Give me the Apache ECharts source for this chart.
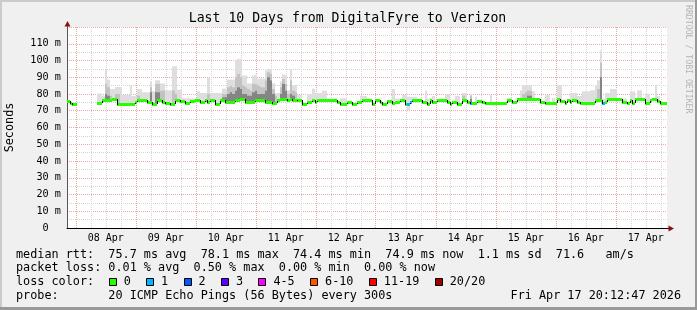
<!DOCTYPE html>
<html><head><meta charset="utf-8">
<script src="https://cdn.jsdelivr.net/npm/echarts@6/dist/echarts.min.js"></script>
<style>html,body{margin:0;padding:0;background:#f0f0f0}#c{width:697px;height:310px}</style>
</head><body><div id="c"></div>
<script>
// ---------- data (hour 0 = Apr 7 20:30, one sample per hour) ----------
const titleText = 'Last 10 Days from DigitalFyre to Verizon';
const dayLabels = ['08 Apr','09 Apr','10 Apr','11 Apr','12 Apr','13 Apr','14 Apr','15 Apr','16 Apr','17 Apr'];
const medianRtt = [
 75.7,74.7,74.3,74.3,null,null,null,null,null,null,
 null,null,74.7,74.7,76.3,76.3,76.3,76.3,77,77,
 74.3,74.3,74.3,74.3,74.3,74.3,74.3,75,76.3,76.3,
 76.3,76.3,75.3,75.3,74.3,74.3,76.3,76.3,75.3,74.7,
 74.7,74.3,74.3,76.7,76.7,75.9,75.9,74.7,74.7,75.9,
 75.9,76.7,76.7,75.1,75.1,76.3,75.1,76.3,76.3,74.3,
 74.3,76.3,76.3,75.1,75.1,75.1,75.1,76.7,76.7,77,
 77,75.1,75.1,75.1,75.1,76.7,76.7,76.7,76.7,75.3,
 75.3,75.3,74.7,74.7,76.3,77,77,77,76.7,77.3,
 76.7,76.7,76.3,76.3,74.3,74.3,75.3,75.3,76.3,75.3,
 76.3,76.3,76.3,76.3,76.3,76.3,76.3,76.3,75.3,74.3,
 74.3,74.3,75.1,75.1,74.3,74.3,75.3,75.3,76.3,76.3,
 76.3,76.3,74.3,76.3,76.3,75.3,74.3,74.3,75.7,75.7,
 74.7,75.5,75.5,76.3,76.3,74.3,74.3,75.5,76.3,76.3,
 76.3,76.3,75.1,75.1,74.3,76.3,75.1,75.1,76.3,76.3,
 76.3,76.3,75.1,74.3,75.5,75.5,74.3,74.3,76.3,76.3,
 75.1,74.7,74.7,74.7,75.9,75.9,75.1,74.7,74.7,74.7,
 74.7,74.7,74.7,74.7,74.7,74.7,76.3,76.3,75.5,75.5,
 77,77,77,77,77,77,77,77,77,75.3,
 75.3,74.7,74.7,74.7,74.7,74.7,77,75.9,75.9,74.7,
 76.3,75.1,76.3,76.3,75.3,74.7,74.7,74.7,74.7,74.7,
 74.7,76.3,76.3,76.3,74.7,75.5,77,77,77,77,
 77,77,75.3,75.3,74.7,76.3,74.7,77,77,77,
 77,74.7,74.7,76.3,77,77,75.9,74.7,74.7,74.7
];
const smokeHi = [
 null,null,null,null,null,null,null,null,null,null,
 null,null,80.3,80.3,79,94.5,88.6,83,83,84.2,
 84.2,84.2,79.5,79.5,79.5,85.2,78.8,78.8,83,83,
 81,81,81,87.5,81.6,88.2,88.2,86.3,86.3,82.2,
 82.2,82.2,96.5,96.5,82.6,82.6,77.5,77.5,77.5,77.5,
 77.5,77.5,81.6,80.6,80.6,80.6,89.8,80.6,80.6,80.6,
 80.6,80.6,83.2,83.2,88.6,88.6,88.6,100.5,101,101,
 91,91,86.3,86.3,91,91.7,89.2,89.2,89.2,94,
 95,95,86.3,80.6,80.6,87.5,91.7,91,82.2,95,
 85.2,85.2,79.5,79.5,null,null,80,80,83.2,80.6,
 80.6,80.6,82,82,null,null,null,77.5,null,77.5,
 77.5,77.5,null,null,null,null,null,78.8,78.8,78.8,
 77.3,77.3,null,null,null,null,null,null,null,null,
 83,77.3,77.3,null,79.5,79.5,78.4,78.4,78.4,78.4,
 null,null,null,82,77.3,77.3,78.8,null,null,null,
 null,80,80,null,null,78.8,78.8,null,80.6,80.6,
 null,80.2,null,78.4,null,null,null,null,null,79.5,
 null,null,null,null,null,null,77.7,77.7,null,null,
 null,82.2,85.2,85.2,85.2,85.2,81.6,null,null,null,
 null,79.3,79.3,null,77.5,null,85.2,85.2,null,null,
 null,80.6,80.6,80.6,78.8,78.8,81.6,81.6,81.6,82.2,
 82.2,85.2,88.2,106,77.3,80.6,80.6,83,83,83,
 null,null,77.3,77.3,null,81.6,81.6,null,82.2,82.2,
 null,80.2,80.2,null,null,85.2,78.8,null,null,null
];
const smokeMid = [[15,86],[16,84],[17,79],[19,80],[20,80],[28,79],[33,84],[35,86],[36,86],[37,82],[38,82],
 [42,82],[43,80],[56,80],[62,80],[63,80],[64,84],[65,85],[66,84],[67,90],[68,92],[69,90],[70,85],[71,84],
 [72,83],[73,82],[74,86],[75,86],[76,85],[77,84],[78,84],[79,88],[80,93],[81,92],[82,83],[83,79],[85,84],
 [86,89],[87,86],[88,80],[89,88],[90,82],[91,81],[158,79],[161,79],[182,80],[183,81],[184,82],[185,82],
 [212,83],[213,98.6]];
const smokeDark = [[15,80],[16,79],[33,81],[35,81],[36,81],[62,78],[63,78],[64,80],[65,81],[66,80],[67,82],
 [68,84],[69,83],[70,80],[71,80],[72,79],[73,79],[74,81],[75,82],[76,80],[77,80],[78,80],[79,82],[80,90],
 [81,88],[82,80],[85,80],[86,86],[87,82],[89,80],[90,79],[161,77],[184,79],[185,79],[213,90]];
const lowDips = [[136,70.5]];
const loss1Hours = [136,137,161,214];
const legendRtt = 'median rtt:  75.7 ms avg  78.1 ms max  74.4 ms min  74.9 ms now  1.1 ms sd  71.6   am/s';
const legendLoss = 'packet loss: 0.01 % avg  0.50 % max  0.00 % min  0.00 % now';
const lossTitle = 'loss color:';
const lossLabels = ['0','1','2','3','4-5','6-10','11-19','20/20'];
const lossColors = ['#26ff00','#00b8ff','#0059ff','#5e00ff','#ff00ff','#ff5500','#ff0000','#a00000'];
const probeText = 'probe:       20 ICMP Echo Pings (56 Bytes) every 300s';
const dateText = 'Fri Apr 17 20:12:47 2026';
const sideText = 'RRDTOOL / TOBI OETIKER';

// ---------- chart ----------
const FONT = '"DejaVu Sans Mono", monospace';
const HOURS = 240;
const midnights = dayLabels.map((d, k) => 3.5 + 24 * k);
const noons = dayLabels.map((d, k) => 15.5 + 24 * k);
const sixHours = [];
for (let h = 3.5, k = 0; h < HOURS; h += 6, k++) if (k % 4 !== 0) sixHours.push(h);

const lightData = [], midData = [], darkData = [];
smokeHi.forEach((v, i) => { if (v != null && medianRtt[i] != null) lightData.push([i, medianRtt[i], v]); });
lowDips.forEach(([i, v]) => lightData.push([i, v, medianRtt[i]]));
smokeMid.forEach(([i, v]) => midData.push([i, medianRtt[i], v]));
smokeDark.forEach(([i, v]) => darkData.push([i, medianRtt[i], v]));
const medData = [];
medianRtt.forEach((m, i) => {
  if (m == null) return;
  const prev = i > 0 && medianRtt[i - 1] != null ? medianRtt[i - 1] : -1;
  medData.push([i, m, prev, loss1Hours.includes(i) ? 1 : 0]);
});

function band(color) {
  return function (params, api) {
    const a = api.coord([api.value(0), api.value(2)]);
    const b = api.coord([api.value(0) + 1, api.value(1)]);
    const l = Math.round(a[0]), r = Math.round(b[0]);
    return { type: 'rect', shape: { x: l, y: a[1], width: r - l, height: b[1] - a[1] }, style: { fill: color } };
  };
}
function medianItem(params, api) {
  const i = api.value(0), m = api.value(1), prev = api.value(2), loss = api.value(3);
  const a = api.coord([i, m]), b = api.coord([i + 1, m]);
  const l = Math.round(a[0]), r = Math.round(b[0]), y = Math.round(a[1]);
  const ch = [{ type: 'rect', shape: { x: l, y: y - 1, width: r - l, height: 3 }, style: { fill: lossColors[loss] } }];
  if (prev > 0 && prev !== m) {
    const p = api.coord([i, prev]);
    ch.push({ type: 'line', shape: { x1: l + 0.5, y1: Math.round(p[1]), x2: l + 0.5, y2: y + 1 }, style: { stroke: '#000', lineWidth: 1 } });
  }
  return { type: 'group', children: ch };
}
function custom(data, render, z) {
  return { type: 'custom', data, renderItem: render, clip: true, z, silent: true, animation: false,
    encode: { x: 0, y: [1, 2] }, xAxisIndex: 0, yAxisIndex: 0 };
}

const graphic = [
  { type: 'rect', shape: { x: 0, y: 0, width: 697, height: 2 }, style: { fill: '#cbcbcb' } },
  { type: 'rect', shape: { x: 0, y: 0, width: 2, height: 310 }, style: { fill: '#cbcbcb' } },
  { type: 'rect', shape: { x: 695, y: 0, width: 2, height: 310 }, style: { fill: '#999' } },
  { type: 'rect', shape: { x: 0, y: 307, width: 697, height: 3 }, style: { fill: '#999' } },
  { type: 'text', x: 347.5, y: 19, style: { text: titleText, font: '13.2px ' + FONT, fill: '#000', align: 'center', verticalAlign: 'middle' } },
  { type: 'text', x: 688, y: 5, rotation: -Math.PI / 2, style: { text: sideText, font: '8.2px ' + FONT, fill: '#b4b4b4', align: 'left', verticalAlign: 'middle' } },
  { type: 'line', shape: { x1: 67.5, y1: 27, x2: 67.5, y2: 23 }, style: { stroke: '#555', lineWidth: 1 } },
  { type: 'polygon', shape: { points: [[64.5, 26.5], [70.5, 26.5], [67.5, 21]] }, style: { fill: '#8b1010' } },
  { type: 'line', shape: { x1: 667, y1: 228.5, x2: 669, y2: 228.5 }, style: { stroke: '#000', lineWidth: 1 } },
  { type: 'polygon', shape: { points: [[668.5, 225.5], [668.5, 231.5], [674, 228.5]] }, style: { fill: '#8b1010' } },
  { type: 'text', x: 16, y: 254.7, style: { text: legendRtt, font: '11.8px ' + FONT, fill: '#000', verticalAlign: 'middle' } },
  { type: 'text', x: 16, y: 268.3, style: { text: legendLoss, font: '11.8px ' + FONT, fill: '#000', verticalAlign: 'middle' } },
  { type: 'text', x: 16, y: 282.3, style: { text: lossTitle, font: '11.8px ' + FONT, fill: '#000', verticalAlign: 'middle' } },
  { type: 'text', x: 16, y: 296, style: { text: probeText, font: '11.8px ' + FONT, fill: '#000', verticalAlign: 'middle' } },
  { type: 'text', x: 681, y: 296, style: { text: dateText, font: '11.8px ' + FONT, fill: '#000', align: 'right', verticalAlign: 'middle' } }
];
let lx = 108.7;
const CH = 7.12;
lossLabels.forEach((lab, k) => {
  graphic.push({ type: 'rect', shape: { x: Math.round(lx) + 0.5, y: 278.5, width: 7, height: 7 }, style: { fill: lossColors[k], stroke: '#000', lineWidth: 1 } });
  graphic.push({ type: 'text', x: lx + 15, y: 282.3, style: { text: lab, font: '11.8px ' + FONT, fill: '#000', verticalAlign: 'middle' } });
  lx += 30.3 + lab.length * CH;
});

const chart = echarts.init(document.getElementById('c'));
chart.setOption({
  animation: false,
  backgroundColor: '#f0f0f0',
  grid: { left: 67, right: 30, top: 27, bottom: 82, show: true, backgroundColor: '#fff', borderWidth: 0, outerBoundsMode: 'none', containLabel: false },
  xAxis: [
    { type: 'value', min: 0, max: HOURS,
      axisLine: { show: true, lineStyle: { color: '#000', width: 1 } },
      axisTick: { show: false, customValues: midnights },
      axisLabel: { show: true, customValues: noons, hideOverlap: false, margin: 5, fontFamily: FONT, fontSize: 10, color: '#000',
        formatter: v => dayLabels[Math.round((v - 15.5) / 24)] },
      splitLine: { show: true, lineStyle: { color: '#eaa8a8', width: 1, type: [1, 1] } } },
    { type: 'value', min: 0, max: HOURS, gridIndex: 0, position: 'bottom',
      axisLine: { show: false }, axisTick: { show: false, customValues: sixHours }, axisLabel: { show: false },
      splitLine: { show: true, lineStyle: { color: '#d4d4d4', width: 1, type: [1, 1] } } }
  ],
  yAxis: {
    type: 'value', min: 0, max: 120, interval: 10,
    name: 'Seconds', nameLocation: 'middle', nameGap: 51, nameRotate: 90,
    nameTextStyle: { fontFamily: FONT, fontSize: 11.8, color: '#000' },
    axisLine: { show: true, lineStyle: { color: '#555' } },
    axisTick: { show: false },
    axisLabel: { margin: 6, fontFamily: FONT, fontSize: 10.2, color: '#000',
      formatter: v => v === 0 ? '0  ' : (v >= 120 ? '' : v + ' m') },
    splitLine: { show: true, lineStyle: { color: '#eaa8a8', width: 1, type: [1, 1] } },
    minorTick: { show: false, splitNumber: 2 },
    minorSplitLine: { show: true, lineStyle: { color: '#d4d4d4', width: 1, type: [1, 1] } }
  },
  series: [
    custom(lightData, band('#dedede'), 2),
    custom(midData, band('#c2c2c2'), 3),
    custom(darkData, band('#858585'), 4),
    Object.assign(custom(medData, medianItem, 5), { encode: { x: 0, y: 1 } })
  ],
  graphic
});
</script></body></html>
